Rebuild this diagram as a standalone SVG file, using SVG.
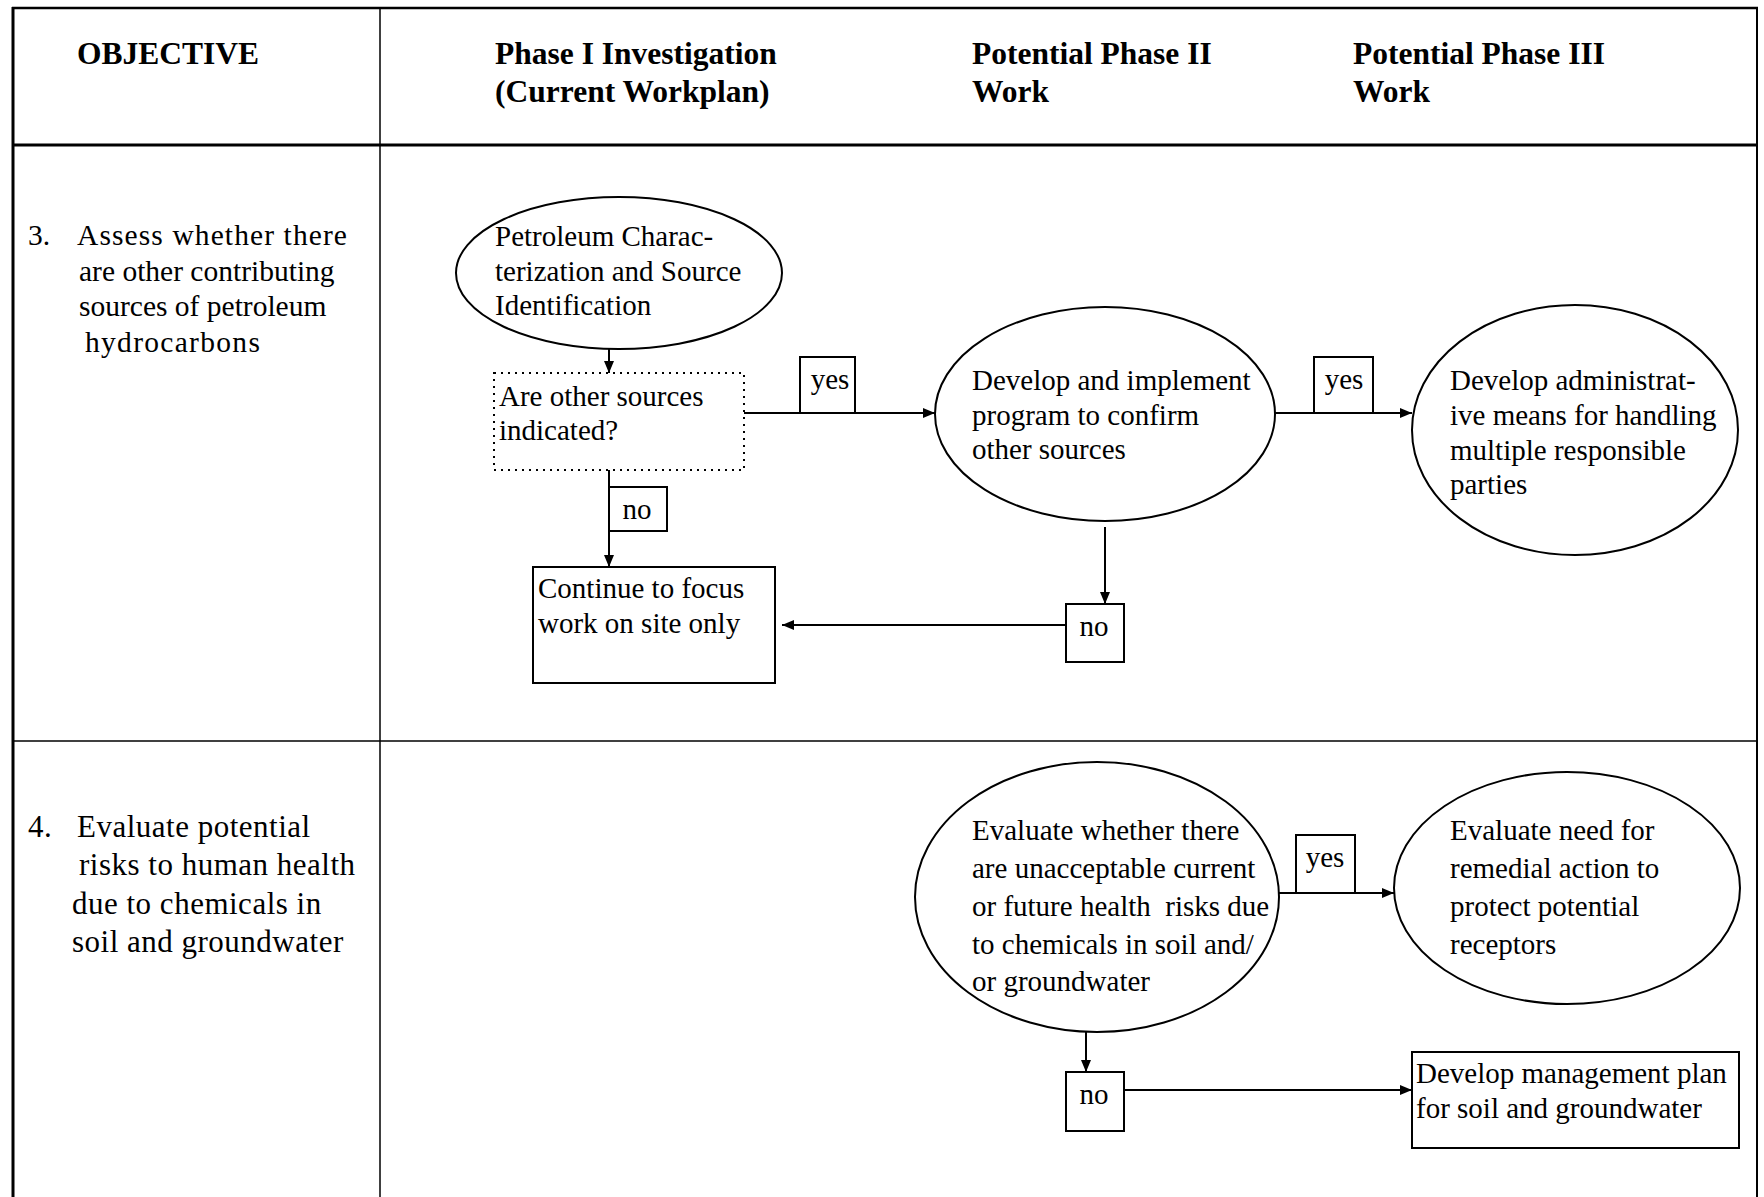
<svg xmlns="http://www.w3.org/2000/svg" width="1764" height="1197" viewBox="0 0 1764 1197">
<style>
text{font-family:"Liberation Serif","Times New Roman",serif;fill:#000}
.h{font-size:31.5px;font-weight:bold}
.r3{font-size:29.5px}
.r4{font-size:31px;letter-spacing:0.5px}
.n{font-size:29px}
.shape{fill:#fff;stroke:#000;stroke-width:2}
.dot{fill:#fff;stroke:#000;stroke-width:2;stroke-dasharray:2 5}
.grid{stroke:#000;fill:none}
.c{stroke:#000;stroke-width:2;fill:none}
.lbl{fill:#fff;stroke:#000;stroke-width:2}
</style>
<defs>
<marker id="ah" markerUnits="userSpaceOnUse" markerWidth="12" markerHeight="12" viewBox="0 0 12 12" refX="12" refY="6" orient="auto">
<path d="M0,1 L12,6 L0,11 Z" fill="#000"/>
</marker>
</defs>
<rect width="1764" height="1197" fill="#fff"/>
<g id="table">
<line class="grid" x1="12" y1="8" x2="1758" y2="8" stroke-width="2.5"/>
<line class="grid" x1="13" y1="7" x2="13" y2="1197" stroke-width="3"/>
<line class="grid" x1="380" y1="8" x2="380" y2="1197" stroke-width="1.5"/>
<line class="grid" x1="1757" y1="7" x2="1757" y2="1197" stroke-width="2"/>
<line class="grid" x1="12" y1="145" x2="1758" y2="145" stroke-width="3"/>
<line class="grid" x1="12" y1="741" x2="1758" y2="741" stroke-width="1.5"/>
</g>
<g id="headers">
<text class="h" x="77" y="64">OBJECTIVE</text>
<text class="h" x="495" y="64">Phase I Investigation</text>
<text class="h" x="495" y="102">(Current Workplan)</text>
<text class="h" x="972" y="64">Potential Phase II</text>
<text class="h" x="972" y="102">Work</text>
<text class="h" x="1353" y="64">Potential Phase III</text>
<text class="h" x="1353" y="102">Work</text>
</g>
<g id="objective3">
<text class="r3" x="28" y="245">3.</text>
<text class="r3" x="77" y="245" letter-spacing="1.1">Assess whether there</text>
<text class="r3" x="79" y="281">are other contributing</text>
<text class="r3" x="79" y="316">sources of petroleum</text>
<text class="r3" x="85" y="352" letter-spacing="1.3">hydrocarbons</text>
</g>
<g id="objective4">
<text class="r4" x="28" y="837">4.</text>
<text class="r4" x="77" y="837">Evaluate potential</text>
<text class="r4" x="79" y="875">risks to human health</text>
<text class="r4" x="72" y="914">due to chemicals in</text>
<text class="r4" x="72" y="952">soil and groundwater</text>
</g>
<g id="connectors">
<line class="c" x1="609" y1="349" x2="609" y2="373" marker-end="url(#ah)"/>
<line class="c" x1="744" y1="413" x2="935" y2="413" marker-end="url(#ah)"/>
<line class="c" x1="1275" y1="413" x2="1412" y2="413" marker-end="url(#ah)"/>
<line class="c" x1="609" y1="470" x2="609" y2="567" marker-end="url(#ah)"/>
<line class="c" x1="1105" y1="527" x2="1105" y2="604" marker-end="url(#ah)"/>
<line class="c" x1="1066" y1="625" x2="782" y2="625" marker-end="url(#ah)"/>
<line class="c" x1="1279" y1="893" x2="1394" y2="893" marker-end="url(#ah)"/>
<line class="c" x1="1086" y1="1032" x2="1086" y2="1072" marker-end="url(#ah)"/>
<line class="c" x1="1124" y1="1090" x2="1412" y2="1090" marker-end="url(#ah)"/>
</g>
<g id="labels">
<g id="yes1"><rect class="lbl" x="800" y="357" width="55" height="56"/><text class="n" x="830" y="389" text-anchor="middle">yes</text></g>
<g id="yes2"><rect class="lbl" x="1314" y="357" width="59" height="56"/><text class="n" x="1344" y="389" text-anchor="middle">yes</text></g>
<g id="no1"><rect class="lbl" x="609" y="487" width="58" height="44"/><text class="n" x="637" y="519" text-anchor="middle">no</text></g>
<g id="no2"><rect class="lbl" x="1066" y="604" width="58" height="58"/><text class="n" x="1094" y="636" text-anchor="middle">no</text></g>
<g id="yes3"><rect class="lbl" x="1296" y="835" width="59" height="58"/><text class="n" x="1325" y="867" text-anchor="middle">yes</text></g>
<g id="no3"><rect class="lbl" x="1066" y="1072" width="58" height="59"/><text class="n" x="1094" y="1104" text-anchor="middle">no</text></g>
</g>
<g id="petroleum">
<ellipse class="shape" cx="619" cy="273" rx="163" ry="76"/>
<text class="n" x="495" y="246">Petroleum Charac-</text>
<text class="n" x="495" y="281">terization and Source</text>
<text class="n" x="495" y="315">Identification</text>
</g>
<g id="othersources">
<rect class="dot" x="494" y="373" width="250" height="97"/>
<text class="n" x="499" y="406">Are other sources</text>
<text class="n" x="499" y="440">indicated?</text>
</g>
<g id="confirm">
<ellipse class="shape" cx="1105" cy="414" rx="170" ry="107"/>
<text class="n" x="972" y="390">Develop and implement</text>
<text class="n" x="972" y="425">program to confirm</text>
<text class="n" x="972" y="459">other sources</text>
</g>
<g id="administrative">
<ellipse class="shape" cx="1575" cy="430" rx="163" ry="125"/>
<text class="n" x="1450" y="390">Develop administrat-</text>
<text class="n" x="1450" y="425">ive means for handling</text>
<text class="n" x="1450" y="460">multiple responsible</text>
<text class="n" x="1450" y="494">parties</text>
</g>
<g id="continue">
<rect class="shape" x="533" y="567" width="242" height="116"/>
<text class="n" x="538" y="598">Continue to focus</text>
<text class="n" x="538" y="633">work on site only</text>
</g>
<g id="healthrisk">
<ellipse class="shape" cx="1097" cy="897" rx="182" ry="135"/>
<text class="n" x="972" y="840">Evaluate whether there</text>
<text class="n" x="972" y="878">are unacceptable current</text>
<text class="n" x="972" y="916" xml:space="preserve">or future health  risks due</text>
<text class="n" x="972" y="954">to chemicals in soil and/</text>
<text class="n" x="972" y="991">or groundwater</text>
</g>
<g id="remedial">
<ellipse class="shape" cx="1567" cy="888" rx="173" ry="116"/>
<text class="n" x="1450" y="840">Evaluate need for</text>
<text class="n" x="1450" y="878">remedial action to</text>
<text class="n" x="1450" y="916">protect potential</text>
<text class="n" x="1450" y="954">receptors</text>
</g>
<g id="management">
<rect class="shape" x="1412" y="1052" width="327" height="96"/>
<text class="n" x="1416" y="1083">Develop management plan</text>
<text class="n" x="1416" y="1118">for soil and groundwater</text>
</g>
</svg>
